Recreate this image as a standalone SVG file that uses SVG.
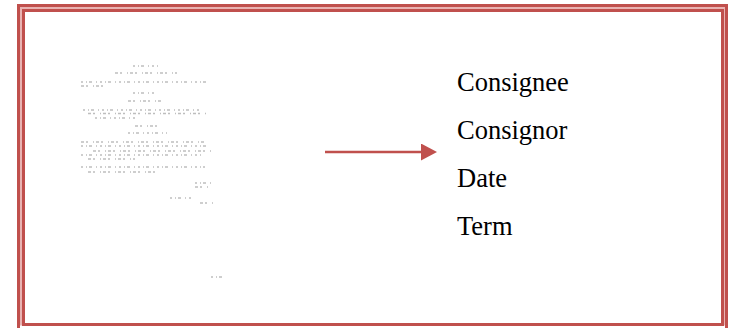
<svg xmlns="http://www.w3.org/2000/svg" width="729" height="328" viewBox="0 0 729 328">
  <defs>
    <style>
      .frame { fill: none; stroke: #C0504D; stroke-width: 3; }
      .frame-gap { fill: none; stroke: #E9B3B2; stroke-width: 2; }
      .label { font-family: "Liberation Serif", "Times New Roman", serif; font-size: 26.5px; fill: #000; }
      .scan { stroke: #a8a8a8; stroke-width: 1.3; fill: none; stroke-dasharray: 2 3 1 2 3 4 1 3; opacity: 0.75; }
      .scan2 { stroke: #a8a8a8; stroke-width: 1.3; fill: none; stroke-dasharray: 3 2 2 5 1 2; opacity: 0.75; }
      .conn { stroke: #C0504D; stroke-width: 2.5; fill: none; }
    </style>
    <marker id="arrowhead" markerUnits="userSpaceOnUse" markerWidth="17" markerHeight="18" refX="0" refY="8.5" orient="auto">
      <path d="M0,0 L16,8.5 L0,17 Z" fill="#C0504D"/>
    </marker>
  </defs>
  <rect width="729" height="328" fill="#ffffff"/>
  <g id="frame">
    <rect class="frame" x="18.5" y="5.5" width="708" height="324"/>
    <rect class="frame-gap" x="21" y="8" width="703" height="316.5"/>
    <rect class="frame" x="23.5" y="10.5" width="699" height="314"/>
  </g>
  <g id="document">
    <line class="scan" x1="133" y1="66" x2="160" y2="66"/>
    <line class="scan2" x1="115" y1="73" x2="177" y2="73"/>
    <line class="scan" x1="81" y1="82" x2="207" y2="82"/>
    <line class="scan2" x1="81" y1="86" x2="103" y2="86"/>
    <line class="scan" x1="133" y1="93" x2="157" y2="93"/>
    <line class="scan2" x1="128" y1="101" x2="163" y2="101"/>
    <line class="scan" x1="83" y1="110" x2="202" y2="110"/>
    <line class="scan2" x1="88" y1="113.5" x2="207" y2="113.5"/>
    <line class="scan" x1="95" y1="118" x2="138" y2="118"/>
    <line class="scan2" x1="135" y1="126" x2="157" y2="126"/>
    <line class="scan" x1="128" y1="133" x2="167" y2="133"/>
    <line class="scan2" x1="81" y1="142" x2="205" y2="142"/>
    <line class="scan" x1="81" y1="146" x2="210" y2="146"/>
    <line class="scan2" x1="93" y1="151" x2="213" y2="151"/>
    <line class="scan" x1="81" y1="155" x2="202" y2="155"/>
    <line class="scan2" x1="88" y1="159" x2="135" y2="159"/>
    <line class="scan" x1="81" y1="167" x2="205" y2="167"/>
    <line class="scan2" x1="88" y1="172" x2="160" y2="172"/>
    <line class="scan" x1="195" y1="183" x2="213" y2="183"/>
    <line class="scan2" x1="195" y1="187" x2="208" y2="187"/>
    <line class="scan" x1="170" y1="198" x2="192" y2="198"/>
    <line class="scan2" x1="200" y1="203" x2="213" y2="203"/>
    <line class="scan" x1="211" y1="277" x2="224" y2="277"/>
  </g>
  <g id="connectors">
    <line class="conn" x1="325" y1="152" x2="421" y2="152" marker-end="url(#arrowhead)"/>
  </g>
  <g id="fields">
    <text class="label" x="457" y="91">Consignee</text>
    <text class="label" x="457" y="139">Consignor</text>
    <text class="label" x="457" y="187">Date</text>
    <text class="label" x="457" y="235">Term</text>
  </g>
</svg>
